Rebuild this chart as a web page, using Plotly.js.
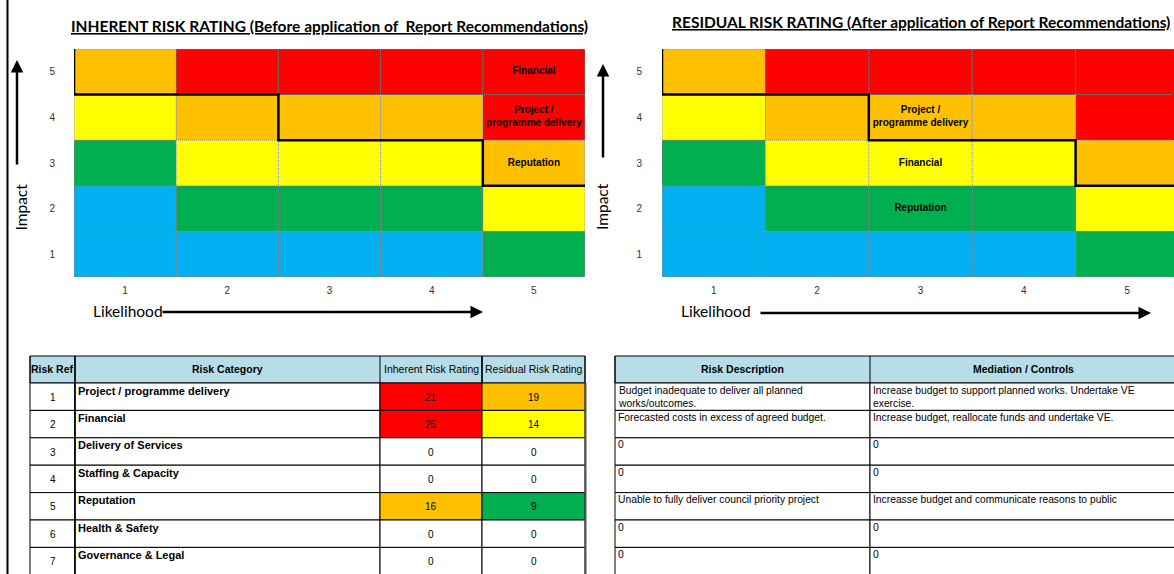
<!DOCTYPE html>
<html>
<head>
<meta charset="utf-8">
<script src="https://cdn.plot.ly/plotly-3.0.1.min.js"></script>
<style>html,body{margin:0;padding:0;background:#fff;}#chart{width:1174px;height:574px;}</style>
</head>
<body>
<div id="chart"></div>
<script>
// ---------- DATA ----------
const likelihood = [1, 2, 3, 4, 5];
const impact = [1, 2, 3, 4, 5];
// risk band per cell (row = impact 1..5, col = likelihood 1..5): 0 blue,1 green,2 yellow,3 amber,4 red
const riskBand = [
  [0, 0, 0, 0, 1],
  [0, 1, 1, 1, 2],
  [1, 2, 2, 2, 3],
  [2, 3, 3, 3, 4],
  [3, 4, 4, 4, 4]
];
const boundaryX = [0.5, 0.5, 2.5, 2.5, 4.5, 4.5, 5.5];
const boundaryY = [5.5, 4.5, 4.5, 3.5, 3.5, 2.5, 2.5];

const matrixLabels = ['Financial', 'Project /<br>programme delivery', 'Reputation'];
const inherentLikelihood = [5, 5, 5];
const inherentImpact = [5, 4, 3];
const residualLikelihood = [3, 3, 3];
const residualImpact = [3, 4, 2];

const riskRef = [1, 2, 3, 4, 5, 6, 7];
const riskCategory = ['Project / programme delivery', 'Financial', 'Delivery of Services', 'Staffing & Capacity', 'Reputation', 'Health & Safety', 'Governance & Legal'];
const inherentRating = [21, 25, 0, 0, 16, 0, 0];
const residualRating = [19, 14, 0, 0, 9, 0, 0];
const riskDescription = ['Budget inadequate to deliver all planned<br>works/outcomes.', 'Forecasted costs in excess of agreed budget.', '0', '0', 'Unable to fully deliver council priority project', '0', '0'];
const mediationControls = ['Increase budget to support planned works. Undertake VE<br>exercise.', 'Increase budget, reallocate funds and undertake VE.', '0', '0', 'Increasse budget and communicate reasons to public', '0', '0'];
const leftHeaders = ['Risk Ref', 'Risk Category', 'Inherent Risk Rating', 'Residual Risk Rating'];
const rightHeaders = ['Risk Description', 'Mediation / Controls'];

// ---------- STYLE ----------
const W = 1174, H = 574;
const px = x => x / W;
const py = y => 1 - y / H;
const bandScale = [
  [0, '#00B0F0'], [0.2, '#00B0F0'], [0.2, '#00B050'], [0.4, '#00B050'],
  [0.4, '#FFFF00'], [0.6, '#FFFF00'], [0.6, '#FFC000'], [0.8, '#FFC000'],
  [0.8, '#FF0000'], [1, '#FF0000']
];
function ratingColor(v) {
  if (v >= 20) return '#FF0000';
  if (v >= 15) return '#FFC000';
  if (v >= 10) return '#FFFF00';
  if (v > 0) return '#00B050';
  return '#FFFFFF';
}
const tableFont = 'Liberation Sans, Arial, sans-serif';
const titleFont = 'Lato, Carlito, Calibri, sans-serif';

function gridTrace(xa, ya) {
  const xs = [], ys = [];
  for (let k = 0; k <= 5; k++) {
    const v = k + 0.5;
    xs.push(v, v, null); ys.push(0.5, 5.5, null);
    xs.push(0.5, 5.5, null); ys.push(v, v, null);
  }
  return {type: 'scatter', mode: 'lines', x: xs, y: ys, xaxis: xa, yaxis: ya,
    line: {color: '#8a8a8a', width: 1, dash: '1px,1px'}, hoverinfo: 'skip', showlegend: false, cliponaxis: false, connectgaps: false};
}
function heatTrace(xa, ya) {
  return {type: 'heatmap', x: likelihood, y: impact, z: riskBand, xaxis: xa, yaxis: ya,
    colorscale: bandScale, zmin: -0.5, zmax: 4.5, showscale: false, hoverinfo: 'skip'};
}
function boundaryTrace(xa, ya) {
  return {type: 'scatter', mode: 'lines', x: boundaryX, y: boundaryY, xaxis: xa, yaxis: ya,
    line: {color: '#000', width: 2.5}, hoverinfo: 'skip', showlegend: false, cliponaxis: false};
}
function labelTrace(xs, ys, xa, ya) {
  return {type: 'scatter', mode: 'text', x: xs, y: ys, xaxis: xa, yaxis: ya,
    text: matrixLabels.map(t => '<b>' + t + '</b>'),
    textfont: {family: tableFont, size: 10, color: '#000'}, textposition: 'middle center',
    hoverinfo: 'skip', showlegend: false, cliponaxis: false};
}

// ---------- TABLES (shapes + annotations built from the arrays) ----------
const shapes = [
  {type: 'line', xref: 'paper', yref: 'paper', x0: px(7.5), x1: px(7.5), y0: 0, y1: 1, line: {color: '#000', width: 2}}
];
const annotations = [];
const headTop = 356, headH = 27, rowH = 27.4;

function rect(x0, y0, x1, y1, fill, lw, lc) {
  shapes.push({type: 'rect', xref: 'paper', yref: 'paper', x0: px(x0), x1: px(x1), y0: py(y1), y1: py(y0),
    fillcolor: fill, line: {color: lc || '#000', width: lw}, layer: 'above'});
}
function vline(x, y0, y1, w, c) {
  shapes.push({type: 'line', xref: 'paper', yref: 'paper', x0: px(x), x1: px(x), y0: py(y1), y1: py(y0), line: {color: c || '#000', width: w}});
}
function txt(x, y, text, opts) {
  annotations.push(Object.assign({xref: 'paper', yref: 'paper', x: px(x), y: py(y), text: text, showarrow: false,
    font: {family: tableFont, size: opts.size || 10, color: '#000'}, xanchor: opts.xanchor || 'center', yanchor: opts.yanchor || 'middle',
    align: 'left'}, opts.extra || {}));
}

function buildTable(edges, headers, headerBold, columns, modes, fills, sizes) {
  const nRows = columns[0].length;
  const x0 = edges[0], x1 = edges[edges.length - 1];
  rect(x0, headTop, x1, headTop + headH, '#B7DEE8', 1);
  for (let c = 0; c < headers.length; c++) {
    const cx = (edges[c] + edges[c + 1]) / 2;
    const t = headerBold[c] ? '<b>' + headers[c] + '</b>' : headers[c];
    txt(cx, headTop + headH / 2 - 0.5, t, {size: 10.5});
  }
  for (let r = 0; r < nRows; r++) {
    const top = headTop + headH + r * rowH;
    for (let c = 0; c < columns.length; c++) {
      rect(edges[c], top, edges[c + 1], top + rowH, fills[c] ? fills[c][r] : '#FFFFFF', 1);
      const v = columns[c][r];
      if (modes[c] === 'center') {
        txt((edges[c] + edges[c + 1]) / 2, top + rowH / 2 + 0.5, String(v), {size: sizes[c]});
      } else {
        txt(edges[c] + 1, top - 0.5, String(v), {size: sizes[c], xanchor: 'left', yanchor: 'top'});
      }
    }
  }
  for (let c = 0; c <= headers.length; c++) vline(edges[c], headTop, headTop + headH, 1);
}

buildTable([30, 75, 380, 482, 585], leftHeaders, [true, true, false, false],
  [riskRef, riskCategory.map(t => '<b>' + t + '</b>'), inherentRating, residualRating],
  ['center', 'left', 'center', 'center'],
  [null, null, inherentRating.map(ratingColor), residualRating.map(ratingColor)],
  [10, 11, 10, 10]);
vline(75, headTop, 574, 1.5);
vline(482, headTop, headTop + headH, 1.5);
vline(585.5, headTop + headH, 574, 2, '#555');

buildTable([615, 870, 1177], rightHeaders, [true, true],
  [riskDescription, mediationControls],
  ['left', 'left'], [null, null], [10.3, 10.3]);

const data = [
  heatTrace('x', 'y'), gridTrace('x', 'y'), boundaryTrace('x', 'y'), labelTrace(inherentLikelihood, inherentImpact, 'x', 'y'),
  heatTrace('x2', 'y2'), gridTrace('x2', 'y2'), boundaryTrace('x2', 'y2'), labelTrace(residualLikelihood, residualImpact, 'x2', 'y2')
];

const tickFont = {family: tableFont, size: 10, color: '#333'};
const axBase = {tickvals: [1, 2, 3, 4, 5], showgrid: false, zeroline: false, showline: false, ticks: '', tickfont: tickFont, fixedrange: true};
const yDom = [py(277), py(49)];

annotations.push(
  {xref: 'paper', yref: 'paper', x: px(329.5), y: py(25.5), text: '<b>INHERENT RISK RATING (Before application of  Report Recommendations)</b>',
    showarrow: false, font: {family: titleFont, size: 15.5, color: '#000', lineposition: 'under'}, xanchor: 'center', yanchor: 'middle'},
  {xref: 'paper', yref: 'paper', x: px(920.5), y: py(22), text: '<b>RESIDUAL RISK RATING (After application of Report Recommendations)</b>',
    showarrow: false, font: {family: titleFont, size: 15.5, color: '#000', lineposition: 'under'}, xanchor: 'center', yanchor: 'middle'},
  {xref: 'paper', yref: 'paper', x: px(20.5), y: py(207), text: 'Impact', textangle: -90, showarrow: false,
    font: {family: titleFont, size: 15.5, color: '#000'}, xanchor: 'center', yanchor: 'middle'},
  {xref: 'paper', yref: 'paper', x: px(602), y: py(207), text: 'Impact', textangle: -90, showarrow: false,
    font: {family: titleFont, size: 15.5, color: '#000'}, xanchor: 'center', yanchor: 'middle'},
  {xref: 'paper', yref: 'paper', x: px(91), y: py(311), text: 'Likelihood', showarrow: false,
    font: {family: titleFont, size: 15.5, color: '#000'}, xanchor: 'left', yanchor: 'middle'},
  {xref: 'paper', yref: 'paper', x: px(679), y: py(311), text: 'Likelihood', showarrow: false,
    font: {family: titleFont, size: 15.5, color: '#000'}, xanchor: 'left', yanchor: 'middle'},
  {xref: 'paper', yref: 'paper', x: px(17), y: py(60), ax: 0, ay: 106, text: '', showarrow: true,
    arrowhead: 2, arrowsize: 1, arrowwidth: 2.5, arrowcolor: '#000'},
  {xref: 'paper', yref: 'paper', x: px(603), y: py(64), ax: 0, ay: 95, text: '', showarrow: true,
    arrowhead: 2, arrowsize: 1, arrowwidth: 2.5, arrowcolor: '#000'},
  {xref: 'paper', yref: 'paper', x: px(483), y: py(312), ax: -322, ay: 0, text: '', showarrow: true,
    arrowhead: 2, arrowsize: 1, arrowwidth: 2.5, arrowcolor: '#000'},
  {xref: 'paper', yref: 'paper', x: px(1151), y: py(313), ax: -392, ay: 0, text: '', showarrow: true,
    arrowhead: 2, arrowsize: 1, arrowwidth: 2.5, arrowcolor: '#000'}
);

const layout = {
  width: W, height: H,
  margin: {l: 0, r: 0, t: 0, b: 0, pad: 0},
  paper_bgcolor: '#fff', plot_bgcolor: '#fff',
  showlegend: false,
  xaxis: Object.assign({}, axBase, {domain: [px(74), px(585)], range: [0.5, 5.5], anchor: 'y', ticklabelstandoff: 6}),
  yaxis: Object.assign({}, axBase, {domain: yDom, range: [0.5, 5.5], anchor: 'x', ticklabelstandoff: 18}),
  xaxis2: Object.assign({}, axBase, {domain: [px(662), 1], range: [0.5, 0.5 + 512 / 103.4], anchor: 'y2', ticklabelstandoff: 6}),
  yaxis2: Object.assign({}, axBase, {domain: yDom, range: [0.5, 5.5], anchor: 'x2', ticklabelstandoff: 19}),
  shapes: shapes,
  annotations: annotations
};

Plotly.newPlot('chart', data, layout, {displayModeBar: false, staticPlot: true});
</script>
</body>
</html>
